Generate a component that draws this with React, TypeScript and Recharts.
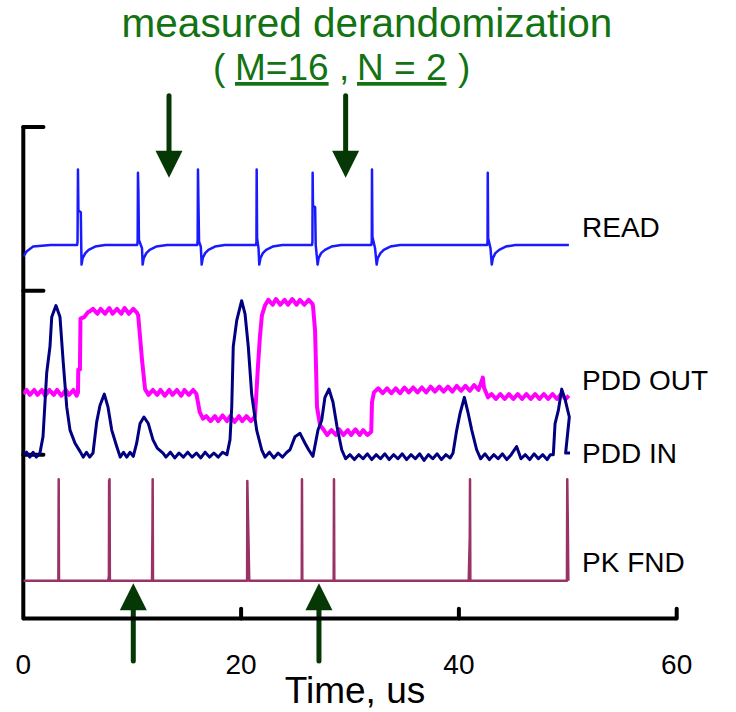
import { LineChart, Line, XAxis, YAxis, ReferenceLine } from 'recharts';

type Pt = [number, number];

// time axis (us)
const timeTicks = [0, 20, 40, 60];
// vertical divisions of the scope screen
const divTicks = [10, 20, 30];

// traces: [time us, level in divisions*10]
const readTrace: Pt[] = [
  [0, 22.1], [0.3, 22.4], [0.9, 22.7], [2.5, 22.8],
  [4.95, 22.8], [4.98, 23.0], [5.02, 27.4], [5.06, 24.9], [5.28, 24.8], [5.32, 22.8], [5.35, 21.6], [5.45, 22.0], [5.7, 22.3], [6.0, 22.5], [6.6, 22.7], [7.5, 22.8],
  [10.46, 22.8], [10.5, 23.0], [10.53, 27.2], [10.57, 26.0], [10.62, 23.1], [10.9, 22.6], [10.96, 21.6], [11.06, 22.0], [11.3, 22.3], [11.6, 22.5], [12.2, 22.7], [13.2, 22.8],
  [15.98, 22.8], [16.01, 23.1], [16.04, 27.4], [16.08, 25.5], [16.14, 23.0], [16.3, 22.7], [16.38, 21.6], [16.48, 22.0], [16.7, 22.3], [17.0, 22.5], [17.6, 22.7], [18.5, 22.8],
  [21.38, 22.8], [21.41, 23.0], [21.43, 27.4], [21.47, 23.2], [21.6, 22.6], [21.67, 21.6], [21.78, 22.0], [22.0, 22.3], [22.3, 22.5], [22.9, 22.7], [23.8, 22.8],
  [26.52, 22.8], [26.55, 23.0], [26.57, 27.2], [26.6, 25.2], [26.8, 25.1], [26.85, 22.8], [27.03, 21.6], [27.12, 22.0], [27.35, 22.3], [27.7, 22.5], [28.3, 22.7], [29.2, 22.8],
  [31.97, 22.8], [32.0, 23.1], [32.02, 27.4], [32.06, 23.3], [32.3, 22.6], [32.45, 21.6], [32.55, 22.0], [32.8, 22.3], [33.1, 22.5], [33.7, 22.7], [34.6, 22.8],
  [42.6, 22.8], [42.63, 23.0], [42.65, 27.2], [42.69, 23.2], [42.9, 22.6], [43.02, 21.6], [43.12, 22.0], [43.35, 22.3], [43.7, 22.5], [44.3, 22.7], [45.2, 22.8], [50.1, 22.8],
];

const pddOut: Pt[] = [
  [0, 13.7], [0.3, 13.95], [0.6, 13.65], [1.0, 13.95], [1.3, 13.65], [1.7, 13.95], [2.0, 13.6], [2.4, 13.95], [2.8, 13.65], [3.1, 13.95], [3.5, 13.6], [3.9, 13.95], [4.2, 13.65], [4.6, 13.95], [4.9, 13.6], [5.02, 13.8],
  [5.05, 15.2], [5.2, 15.2], [5.25, 18.3], [5.6, 18.4], [5.94, 18.7], [6.12, 18.75],
  [6.4, 18.9], [6.8, 18.6], [7.1, 18.9], [7.5, 18.6], [7.9, 18.95], [8.2, 18.6], [8.6, 18.9], [9.0, 18.6], [9.3, 18.95], [9.7, 18.6], [10.1, 18.9], [10.45, 18.65],
  [10.55, 18.5], [10.9, 15.8], [11.18, 14.0],
  [11.5, 13.65], [11.9, 13.95], [12.3, 13.65], [12.6, 13.95], [13.0, 13.6], [13.4, 13.95], [13.7, 13.65], [14.1, 13.95], [14.5, 13.6], [14.8, 13.95], [15.2, 13.65], [15.6, 13.95], [15.9, 13.7],
  [16.2, 12.6], [16.5, 12.2],
  [16.8, 12.35], [17.2, 12.05], [17.6, 12.35], [17.9, 12.05], [18.3, 12.4], [18.7, 12.05], [19.0, 12.35], [19.4, 12.0], [19.8, 12.35], [20.1, 12.05], [20.5, 12.35], [20.9, 12.05], [21.25, 12.3],
  [21.3, 12.6], [21.55, 15.4], [21.73, 17.2], [21.91, 18.5], [22.19, 19.1],
  [22.5, 19.45], [22.9, 19.15], [23.2, 19.5], [23.6, 19.15], [24.0, 19.45], [24.3, 19.15], [24.7, 19.5], [25.1, 19.15], [25.4, 19.45], [25.8, 19.15], [26.2, 19.45], [26.55, 19.2],
  [26.6, 19.1], [26.79, 17.6], [26.88, 15.4], [26.97, 12.9], [27.25, 11.8],
  [27.6, 11.5], [27.9, 11.2], [28.3, 11.5], [28.7, 11.2], [29.0, 11.55], [29.4, 11.2], [29.8, 11.5], [30.1, 11.2], [30.5, 11.55], [30.9, 11.2], [31.2, 11.5], [31.6, 11.2], [31.95, 11.4],
  [32.02, 13.2], [32.2, 13.8],
  [32.6, 14.05], [33.0, 13.75], [33.4, 14.05], [33.8, 13.75], [34.2, 14.05], [34.6, 13.75], [35.0, 14.1], [35.4, 13.8], [35.8, 14.1], [36.2, 13.8], [36.6, 14.1], [37.0, 13.8], [37.4, 14.15], [37.8, 13.85], [38.2, 14.15], [38.6, 13.85], [39.0, 14.15], [39.4, 13.85], [39.8, 14.2], [40.2, 13.9], [40.6, 14.2], [41.0, 13.9], [41.4, 14.25], [41.8, 13.95], [42.2, 14.7], [42.3, 14.1],
  [42.67, 13.5],
  [43.0, 13.7], [43.4, 13.4], [43.8, 13.7], [44.2, 13.4], [44.6, 13.7], [45.0, 13.4], [45.4, 13.7], [45.8, 13.4], [46.2, 13.7], [46.6, 13.4], [47.0, 13.7], [47.4, 13.4], [47.8, 13.7], [48.2, 13.4], [48.6, 13.7], [49.0, 13.4], [49.4, 13.7], [49.8, 13.4], [50.1, 13.6],
];

const pddIn: Pt[] = [
  [0, 10.0], [0.3, 10.15], [0.6, 9.85], [0.9, 10.15], [1.2, 9.85], [1.53, 10.1],
  [1.81, 11.1], [2.15, 15.0], [2.45, 16.6], [2.61, 18.4], [3.0, 19.1], [3.37, 18.4], [3.67, 15.6], [3.99, 12.9], [4.29, 11.5], [4.75, 10.7], [5.21, 10.2],
  [5.5, 9.85], [5.8, 10.15], [6.1, 9.85], [6.4, 10.1],
  [6.74, 12.0], [7.04, 13.0], [7.44, 13.7], [7.78, 12.9], [8.12, 11.5], [8.58, 10.5],
  [8.9, 9.85], [9.2, 10.15], [9.5, 9.85], [9.8, 10.15], [10.1, 9.9], [10.41, 10.7],
  [10.72, 11.9], [11.08, 12.3], [11.48, 11.9], [11.91, 10.9], [12.3, 10.4], [12.83, 10.1],
  [13.1, 9.85], [13.5, 10.15], [13.9, 9.8], [14.3, 10.1], [14.7, 9.85], [15.1, 10.15], [15.5, 9.85], [15.9, 10.1], [16.3, 9.8], [16.7, 10.15], [17.1, 9.85], [17.5, 10.1], [17.9, 9.85], [18.3, 10.15], [18.7, 10.0],
  [18.98, 10.9], [19.14, 12.9], [19.28, 16.6], [19.6, 18.2], [20.05, 19.4], [20.36, 18.6], [20.66, 16.6], [20.97, 13.7], [21.43, 11.5], [21.89, 10.3],
  [22.2, 9.85], [22.6, 10.15], [23.0, 9.8], [23.4, 10.1], [23.8, 9.85], [24.2, 10.15], [24.49, 10.3],
  [24.95, 11.1], [25.41, 11.3], [25.87, 10.7], [26.2, 10.3], [26.6, 9.9],
  [27.06, 11.5], [27.4, 12.1], [27.7, 13.5], [28.07, 14.0], [28.44, 13.2], [28.81, 11.7], [29.24, 10.3],
  [29.6, 9.75], [30.0, 10.0], [30.4, 9.7], [30.8, 10.0], [31.2, 9.75], [31.6, 10.05], [32.0, 9.7], [32.4, 10.0], [32.8, 9.75], [33.2, 10.05], [33.6, 9.7], [34.0, 10.0], [34.4, 9.75], [34.8, 10.05], [35.2, 9.7], [35.6, 10.0], [36.0, 9.75], [36.4, 10.05], [36.8, 9.65], [37.2, 10.0], [37.6, 9.75], [38.0, 10.05], [38.4, 9.7], [38.8, 10.0], [39.2, 9.8], [39.46, 10.1],
  [39.8, 11.5], [40.1, 12.5], [40.5, 13.5], [40.86, 12.5], [41.18, 11.5], [41.63, 10.3],
  [42.0, 9.75], [42.4, 10.05], [42.8, 9.7], [43.2, 10.0], [43.6, 9.75], [44.0, 10.05], [44.4, 9.7], [44.8, 10.0], [45.3, 10.5], [45.7, 9.75], [46.1, 10.0], [46.5, 9.7], [46.9, 10.05], [47.3, 9.75], [47.7, 10.0], [48.1, 9.7], [48.4, 10.0], [48.67, 10.0],
  [48.83, 11.9], [49.13, 12.7], [49.44, 14.0], [49.74, 13.4], [50.14, 12.3], [49.8, 10.1], [50.2, 10.1],
];

const pkFnd: Pt[] = [
  [0, 2.3], [3.22, 2.3], [3.25, 8.5], [3.28, 2.3],
  [7.8, 2.3], [7.86, 2.6], [7.88, 8.4], [7.92, 8.5], [7.95, 2.3],
  [11.82, 2.3], [11.86, 5.5], [11.88, 8.5], [11.91, 2.3],
  [20.55, 2.3], [20.57, 8.4], [20.75, 2.3],
  [25.57, 2.3], [25.59, 8.5], [25.62, 2.3],
  [28.5, 2.3], [28.53, 8.5], [28.56, 2.3],
  [40.9, 2.3], [41.0, 5.0], [41.02, 8.5], [41.05, 2.3],
  [49.92, 2.3], [49.95, 8.5], [50.0, 5.8], [50.05, 2.3],
];

// arrow annotations: time position of each arrow
const topArrowTimes = [13.38, 29.6];
const bottomArrowTimes = [10.1, 27.15];

const traces = [
  { name: 'PDD OUT', color: '#ff00ff', width: 4, pts: pddOut },
  { name: 'PDD IN', color: '#000080', width: 3, pts: pddIn },
  { name: 'READ', color: '#1a1aff', width: 2.5, pts: readTrace },
  { name: 'PK FND', color: '#993366', width: 2.5, pts: pkFnd },
];

const ARROW = '#053805';
const FONT = '"Liberation Sans", Arial, sans-serif';

const ArrowShape = (props: any) => {
  const { x1, y1, x2, y2 } = props;
  const dir = y2 > y1 ? 1 : -1;
  const head = 27;
  const half = 13.5;
  const by = y2 - dir * head;
  return (
    <g>
      <line x1={x1} y1={y1} x2={x2} y2={by} stroke={ARROW} strokeWidth={5} strokeLinecap="round" />
      <polygon points={`${x2 - half},${by} ${x2 + half},${by} ${x2},${y2}`} fill={ARROW} />
    </g>
  );
};

const TickShape = (props: any) => {
  const { x1, y1, x2, y2 } = props;
  return <line x1={x1} y1={y1} x2={x2} y2={y2} stroke="#000" strokeWidth={4} strokeLinecap="round" />;
};

export default function App() {
  return (
    <div style={{ position: 'absolute', left: 0, top: 0, width: 736, height: 712, background: '#fff' }}>
      <LineChart
        width={736}
        height={712}
        margin={{ top: 127, right: 59.3, left: 23.3, bottom: 33.5 }}
      >
        <XAxis
          type="number"
          dataKey="x"
          domain={[0, 60]}
          ticks={timeTicks}
          allowDataOverflow
          height={60}
          axisLine={{ stroke: '#000', strokeWidth: 4 }}
          tickLine={false}
          tickSize={0}
          tickMargin={36}
          tick={{ fill: '#000', fontSize: 28, fontFamily: FONT }}
        />
        <YAxis type="number" dataKey="y" domain={[0, 30]} hide />
        <ReferenceLine segment={[{ x: 0, y: 0 }, { x: 0, y: 30 }]} shape={TickShape} ifOverflow="visible" />
        {divTicks.map((t) => (
          <ReferenceLine key={'d' + t} segment={[{ x: 0, y: t }, { x: 1.85, y: t }]} shape={TickShape} ifOverflow="visible" />
        ))}
        {timeTicks.slice(1).map((t) => (
          <ReferenceLine key={'t' + t} segment={[{ x: t, y: 0 }, { x: t, y: 0.6 }]} shape={TickShape} ifOverflow="visible" />
        ))}
        {traces.map((tr) => (
          <Line
            key={tr.name}
            name={tr.name}
            data={tr.pts.map(([x, y]) => ({ x, y }))}
            dataKey="y"
            type="linear"
            stroke={tr.color}
            strokeWidth={tr.width}
            strokeLinejoin="round"
            dot={false}
            activeDot={false}
            isAnimationActive={false}
          />
        ))}
        {topArrowTimes.map((t) => (
          <ReferenceLine key={'ta' + t} segment={[{ x: t, y: 31.9 }, { x: t, y: 26.9 }]} shape={ArrowShape} ifOverflow="visible" />
        ))}
        {bottomArrowTimes.map((t) => (
          <ReferenceLine key={'ba' + t} segment={[{ x: t, y: -2.6 }, { x: t, y: 2.15 }]} shape={ArrowShape} ifOverflow="visible" />
        ))}
      </LineChart>
      <svg
        width={736}
        height={712}
        style={{ position: 'absolute', left: 0, top: 0, pointerEvents: 'none' }}
        fontFamily={FONT}
      >
        <text x={367} y={37} fontSize={40.5} fill="#137313" textAnchor="middle">
          measured derandomization
        </text>
        <text y={80} fontSize={37} fill="#137313">
          <tspan x={213}>(</tspan>
          <tspan x={235} style={{ textDecoration: 'underline' }}>M=16</tspan>
          <tspan x={339}>,</tspan>
          <tspan x={357} style={{ textDecoration: 'underline' }}>N = 2</tspan>
          <tspan x={458}>)</tspan>
        </text>
        <text x={582} y={237} fontSize={28} fill="#000">READ</text>
        <text x={582} y={390} fontSize={28} fill="#000">PDD OUT</text>
        <text x={582} y={463} fontSize={28} fill="#000">PDD IN</text>
        <text x={582} y={572} fontSize={28} fill="#000">PK FND</text>
        <text x={355} y={703} fontSize={37} fill="#000" textAnchor="middle">Time, us</text>
      </svg>
    </div>
  );
}
